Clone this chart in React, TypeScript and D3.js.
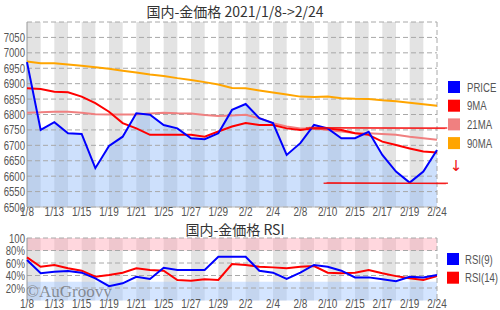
import React from "react";
import * as d3 from "d3";

const dates = ["1/8","1/12","1/13","1/14","1/15","1/18","1/19","1/20","1/21","1/22","1/25","1/26","1/27","1/28","1/29","2/1","2/2","2/3","2/4","2/5","2/8","2/9","2/10","2/12","2/15","2/16","2/17","2/18","2/19","2/22","2/24"];
const price = [6970,6750,6775,6739,6737,6626,6698,6728,6804,6799,6766,6755,6723,6720,6739,6815,6834,6788,6772,6669,6707,6766,6755,6723,6723,6744,6669,6615,6579,6615,6685];
const ma9 = [6885,6883,6874,6872,6858,6837,6809,6772,6755,6734,6734,6734,6734,6728,6745,6761,6772,6766,6766,6755,6750,6755,6755,6750,6739,6734,6712,6701,6690,6680,6677];
const ma21 = [6806,6807,6809,6809,6806,6801,6800,6800,6800,6803,6806,6804,6803,6798,6795,6797,6799,6788,6772,6761,6755,6755,6750,6745,6740,6739,6737,6734,6728,6723,6718];
const ma90 = [6972,6966,6966,6962,6958,6953,6948,6942,6936,6930,6925,6918,6912,6905,6897,6886,6885,6878,6871,6865,6858,6857,6858,6853,6851,6850,6846,6843,6838,6833,6828];
const rsi9 = [64.8,43.5,46,47,44.5,35.5,23,27.5,38,34.4,52.5,48.8,48.8,48.8,70,70,70,47.7,44.5,34.4,44.5,56.8,54,47.7,37,37,34,31,38,37,40.8];
const rsi14 = [69,54,56.8,51.5,47.7,38,40.8,44.5,51.5,48.8,47.7,32.8,31.7,34,32.8,58.4,56.8,54,53,51.5,54,55,44.5,43.5,44.5,48.8,43.5,39,35.5,32.8,39];
const priceTicks = [6500,6550,6600,6650,6700,6750,6800,6850,6900,6950,7000,7050];
const rsiTicks = [20,40,60,80,100];
const rsiTickLabels = ["20%","40%","60%","80%","100"];
const priceLegend = ["PRICE","9MA","21MA","90MA"];
const priceColors = ["#0000ff","#ff0000","#f08080","#ffa500"];
const rsiLegend = ["RSI(9)","RSI(14)"];
const rsiColors = ["#0000ff","#ff0000"];
// hand-drawn support/resistance lines: [startIndex, endIndex, value]
const hLines = [[20.4, 30.75, 6756],[21.7, 30.8, 6577]];

const NUM_FONT = "'Liberation Sans', Arial, sans-serif";
const CJK_FONT = "'Noto Sans CJK JP', 'Noto Sans', sans-serif";

function NText({ x, y, anchor = "start", size = 12, children }: { x: number; y: number; anchor?: string; size?: number; children: React.ReactNode }) {
  return (
    <text transform={`translate(${x},${y}) scale(0.8,1)`} textAnchor={anchor} fontFamily={NUM_FONT} fontSize={size} fill="#555">{children}</text>
  );
}

export default function App() {
  const n = dates.length;
  const x = d3.scaleLinear().domain([0, n - 1]).range([27, 437]);
  const y = d3.scaleLinear().domain([6500, 7100]).range([207, 22]);
  const yr = d3.scaleLinear().domain([0, 100]).range([300.5, 238]);

  const line = (vals: number[], ys: d3.ScaleLinear<number, number>) =>
    d3.line<number>().x((_, i) => x(i)).y((v) => ys(v))(vals) || "";
  const area = d3.area<number>().x((_, i) => x(i)).y0(y(6500)).y1((v) => y(v))(price) || "";

  const stripes = d3.range(0, n - 1, 2);
  const labelIdx = d3.range(0, n, 2);

  return (
    <svg width={500} height={310} style={{ position: "absolute", left: 0, top: 0, background: "#fff" }}>
      <text x={235} y={17} textAnchor="middle" fontFamily={CJK_FONT} fontSize={14} fill="#333">国内-金価格 2021/1/8-&gt;2/24</text>
      {stripes.map((i) => (
        <rect key={"s" + i} x={x(i)} y={y(7100)} width={x(i + 1) - x(i)} height={y(6500) - y(7100)} fill="#e3e3e3" />
      ))}
      <path d={area} fill="#88b4f8" fillOpacity={0.42} />
      {priceTicks.concat([7100]).map((t) => (
        <line key={"g" + t} x1={27} x2={437} y1={y(t)} y2={y(t)} stroke="#a8a8a8" strokeDasharray="5,3" strokeWidth={1} />
      ))}
      <line x1={437} x2={437} y1={y(7100)} y2={y(6500)} stroke="#a8a8a8" strokeDasharray="5,3" />
      <line x1={27} x2={27} y1={y(7100)} y2={y(6500)} stroke="#999" />
      <line x1={27} x2={437} y1={y(6500)} y2={y(6500)} stroke="#bbb" />
      {priceTicks.map((t) => (
        <NText key={"yl" + t} x={25} y={y(t) + 4.5} anchor="end">{t}</NText>
      ))}
      {labelIdx.map((i) => (
        <NText key={"xl" + i} x={x(i)} y={216} anchor="middle" size={12.5}>{dates[i]}</NText>
      ))}
      <path d={line(ma90, y)} fill="none" stroke={priceColors[3]} strokeWidth={2} />
      <path d={line(ma21, y)} fill="none" stroke={priceColors[2]} strokeWidth={2} />
      <path d={line(ma9, y)} fill="none" stroke={priceColors[1]} strokeWidth={2} />
      <path d={line(price, y)} fill="none" stroke={priceColors[0]} strokeWidth={2} />
      {hLines.map(([a, b, v], k) => (
        <g key={"h" + k}>
          <line x1={x(a)} x2={x(b)} y1={y(v)} y2={y(v)} stroke="#ee1111" strokeWidth={1.6} strokeOpacity={0.85} />
          <line x1={x(a) + 3} x2={x(b) - 2} y1={y(v) - 0.8} y2={y(v) + 0.6} stroke="#ff0000" strokeWidth={1} strokeOpacity={0.6} />
        </g>
      ))}
      {priceLegend.map((name, k) => (
        <g key={"lg" + k}>
          <rect x={448} y={81 + k * 18.7} width={12} height={12} fill={priceColors[k]} />
          <NText x={467} y={91.5 + k * 18.7}>{name}</NText>
        </g>
      ))}
      <text x={456} y={171} textAnchor="middle" fontFamily="'DejaVu Sans', sans-serif" fontSize={15} fill="#ee1111">↓</text>

      <text x={235} y={235} textAnchor="middle" fontFamily={CJK_FONT} fontSize={14} fill="#333">国内-金価格 RSI</text>
      {stripes.map((i) => (
        <rect key={"rs" + i} x={x(i)} y={yr(100)} width={x(i + 1) - x(i)} height={yr(0) - yr(100)} fill="#e3e3e3" />
      ))}
      <rect x={27} y={yr(100)} width={410} height={yr(80) - yr(100)} fill="#ff9fb0" fillOpacity={0.42} />
      <rect x={27} y={yr(30)} width={410} height={yr(0) - yr(30)} fill="#99c2ff" fillOpacity={0.42} />
      {rsiTicks.map((t) => (
        <line key={"rg" + t} x1={27} x2={437} y1={yr(t)} y2={yr(t)} stroke="#a8a8a8" strokeDasharray="5,3" />
      ))}
      <line x1={437} x2={437} y1={yr(100)} y2={yr(0)} stroke="#a8a8a8" strokeDasharray="5,3" />
      <line x1={27} x2={27} y1={yr(100)} y2={yr(0)} stroke="#999" />
      {rsiTicks.map((t, k) => (
        <NText key={"ryl" + t} x={25} y={yr(t) + 4.5} anchor="end">{rsiTickLabels[k]}</NText>
      ))}
      {labelIdx.map((i) => (
        <NText key={"rxl" + i} x={x(i)} y={308} anchor="middle" size={12.5}>{dates[i]}</NText>
      ))}
      <path d={line(rsi14, yr)} fill="none" stroke={rsiColors[1]} strokeWidth={2} />
      <path d={line(rsi9, yr)} fill="none" stroke={rsiColors[0]} strokeWidth={2} />
      {rsiLegend.map((name, k) => (
        <g key={"rlg" + k}>
          <rect x={447} y={253 + k * 18.7} width={12} height={12} fill={rsiColors[k]} />
          <NText x={465} y={263.5 + k * 18.7}>{name}</NText>
        </g>
      ))}
      <text x={26} y={297} fontFamily="'Liberation Serif', 'DejaVu Serif', serif" fontSize={17} fill="#666" fillOpacity={0.7}>©AuGroovy</text>
    </svg>
  );
}
